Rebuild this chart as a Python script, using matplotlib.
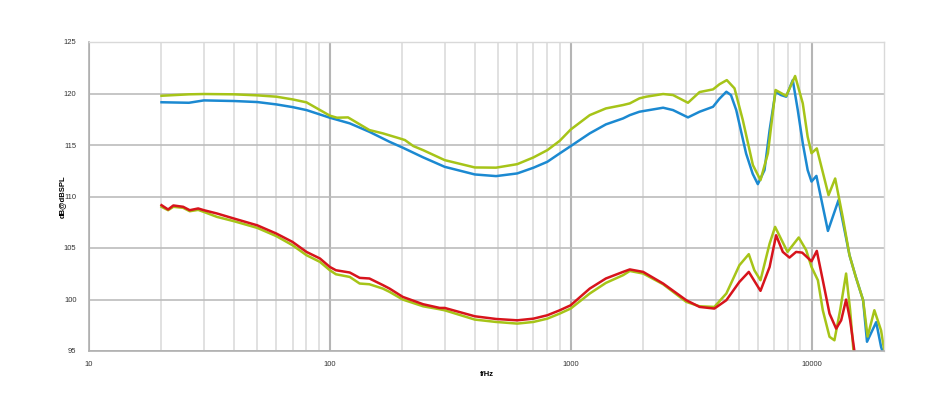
import numpy as np
import matplotlib.pyplot as plt
from matplotlib.ticker import FixedLocator, NullFormatter

# upper pair (blue / green)
freq_blue = [20, 26, 30, 40, 50, 60, 70, 80, 100, 121, 146, 177, 200, 244, 300, 400, 490, 600,
             700, 800, 900, 1000, 1200, 1400, 1650, 1760, 1930, 2420, 2660, 3070, 3430, 3900,
             4150, 4430, 4630, 4870, 5350, 5700, 5985, 6380, 6700, 7090, 7470, 7850, 8360, 8770,
             9200, 9640, 10000, 10480, 11700, 12950, 14380, 15270, 16380, 17000, 18560, 19450,
             20000]
spl_blue = [119.15, 119.1, 119.33, 119.27, 119.17, 118.94, 118.68, 118.39, 117.65, 117.1, 116.28,
            115.31, 114.76, 113.8, 112.88, 112.14, 111.98, 112.24, 112.79, 113.37, 114.18, 114.89,
            116.13, 117.0, 117.58, 117.9, 118.23, 118.62, 118.39, 117.68, 118.23, 118.71,
            119.5, 120.17, 119.85, 118.39, 114.18, 112.2, 111.2, 112.56, 116.45, 120.17, 119.85,
            119.69, 121.3, 118.39, 115.16, 112.56, 111.45, 112.0, 106.66, 109.65, 104.3, 102.2,
            99.93, 95.9, 97.8, 95.4, 94.5]

freq_green_hi = [20, 26, 30, 40, 50, 60, 70, 80, 100, 107, 119, 146, 166, 195, 205, 222, 244, 300,
                 400, 490, 600, 700, 800, 900, 1000, 1200, 1400, 1650, 1760, 1930, 2060, 2420,
                 2660, 3070, 3430, 3900, 4150, 4450, 4790, 5185, 5710, 6140, 6590, 7090, 7850,
                 8550, 9200, 9640, 10000, 10520, 11770, 12540, 13480, 14380, 15270, 16380, 17100,
                 18240, 19450, 20000]
spl_green_hi = [119.78, 119.92, 119.95, 119.92, 119.82, 119.69, 119.43, 119.14, 117.85, 117.65,
                117.68, 116.45, 116.13, 115.64, 115.48, 114.9, 114.5, 113.53, 112.82, 112.8,
                113.14, 113.79, 114.5, 115.4, 116.5, 117.9, 118.55, 118.88, 119.04, 119.53,
                119.69, 119.95, 119.85, 119.1, 120.14, 120.4, 120.9, 121.3, 120.5, 117.42, 113.05,
                111.59, 114.18, 120.34, 119.76, 121.7, 119.04, 115.8, 114.2, 114.67, 110.13,
                111.75, 108.0, 104.3, 102.2, 99.93, 96.4, 98.96, 97.0, 95.2]

# lower pair (green / red)
freq_green_lo = [20, 21.3, 22.4, 24.6, 26.2, 28.4, 30, 34, 40, 50, 60, 70, 80, 91, 100, 106, 121,
                 133, 146, 166, 177, 201, 244, 286, 300, 400, 490, 600, 700, 800, 900, 1000,
                 1200, 1400, 1650, 1760, 2000, 2420, 3020, 3430, 3950, 4430, 5020, 5490, 5790,
                 6140, 6700, 7060, 7950, 8850, 9500, 10000, 10630, 11140, 11880, 12450, 13150,
                 13920, 14470, 14930, 15200]
spl_green_lo = [109.0, 108.67, 109.0, 108.9, 108.57, 108.7, 108.5, 108.02, 107.6, 106.95, 106.15,
                105.27, 104.3, 103.65, 102.84, 102.45, 102.19, 101.55, 101.48, 101.06, 100.74,
                99.99, 99.34, 99.05, 98.95, 98.05, 97.82, 97.66, 97.82, 98.14, 98.63, 99.12,
                100.58, 101.61, 102.36, 102.77, 102.52, 101.48, 99.77, 99.34, 99.28, 100.58,
                103.33, 104.4, 102.84, 101.87, 105.43, 107.05, 104.62, 106.02, 104.8, 103.16,
                101.87, 98.96, 96.38, 96.04, 98.96, 102.52, 98.96, 95.07, 94.0]

freq_red = [20, 21.3, 22.4, 24.6, 26.2, 28.4, 30, 34, 40, 50, 60, 70, 80, 91, 100, 106, 121, 133,
            146, 166, 177, 201, 244, 286, 300, 400, 490, 600, 700, 800, 900, 1000, 1200, 1400,
            1650, 1760, 2000, 2420, 3020, 3430, 3950, 4430, 5020, 5490, 6140, 6700, 7130, 7600,
            8100, 8630, 9150, 10000, 10520, 11140, 11880, 12660, 13280, 13920, 14470, 15070,
            15300]
spl_red = [109.16, 108.74, 109.13, 109.0, 108.67, 108.84, 108.67, 108.35, 107.86, 107.2, 106.4,
           105.59, 104.62, 103.98, 103.16, 102.84, 102.62, 102.1, 102.04, 101.4, 101.06, 100.25,
           99.54, 99.18, 99.18, 98.37, 98.11, 97.98, 98.14, 98.47, 98.95, 99.44, 101.06, 102.04,
           102.68, 102.92, 102.68, 101.55, 99.93, 99.28, 99.12, 99.93, 101.71, 102.68, 100.84,
           103.16, 106.24, 104.62, 104.07, 104.62, 104.55, 103.71, 104.72, 101.87, 98.63, 97.17,
           97.98, 99.99, 97.98, 95.0, 94.0]

yticks = [95, 100, 105, 110, 115, 120, 125]
xticks = [10, 100, 1000, 10000]

c_blue = "#1b89d1"
c_green = "#a6c418"
c_red = "#d7141c"

#### FIGURE ####
plt.rcParams['font.family'] = ['Liberation Sans', 'DejaVu Sans']
fig = plt.figure(figsize=(9.47, 4.0), dpi=100)
ax = fig.add_axes([89 / 947, 1 - 351 / 400, (884 - 89) / 947, (351 - 42) / 400])

ax.set_xscale("log")
ax.set_xlim(10, 20000)
ax.set_ylim(95, 125)

# minor vertical grid at 2..9 of every decade, darker lines on the decades
minor = [m * 10 ** k for k in range(1, 5) for m in range(2, 10) if m * 10 ** k < 20000]
ax.xaxis.set_major_locator(FixedLocator(xticks))
ax.xaxis.set_minor_locator(FixedLocator(minor))
ax.xaxis.set_minor_formatter(NullFormatter())
ax.set_xticklabels([str(t) for t in xticks])
ax.set_yticks(yticks)

ax.grid(which="minor", axis="x", color="#d9d9d9", linewidth=1.1)
ax.grid(which="major", axis="x", color="#b5b5b5", linewidth=1.5)
ax.grid(which="major", axis="y", color="#bcbcbc", linewidth=1.2)
ax.set_axisbelow(True)

for side in ["left", "bottom"]:
    ax.spines[side].set_color("#b0b0b0")
    ax.spines[side].set_linewidth(1.2)
for side in ["top", "right"]:
    ax.spines[side].set_color("#d9d9d9")
    ax.spines[side].set_linewidth(1.0)

ax.tick_params(axis="both", which="both", length=0, labelsize=5.5, colors="#333333")
ax.tick_params(axis="x", pad=7)
ax.tick_params(axis="y", pad=9)

lw = 1.8
ax.plot(freq_blue, spl_blue, color=c_blue, lw=lw)
ax.plot(freq_green_hi, spl_green_hi, color=c_green, lw=lw)
ax.plot(freq_green_lo, spl_green_lo, color=c_green, lw=lw)
ax.plot(freq_red, spl_red, color=c_red, lw=lw)

ax.set_ylabel("dB@dBSPL", fontsize=5.5, fontweight="bold", labelpad=-1.5)
ax.set_xlabel("f/Hz", fontsize=5.5, fontweight="bold", labelpad=2)

plt.savefig("out.png", dpi=100)
